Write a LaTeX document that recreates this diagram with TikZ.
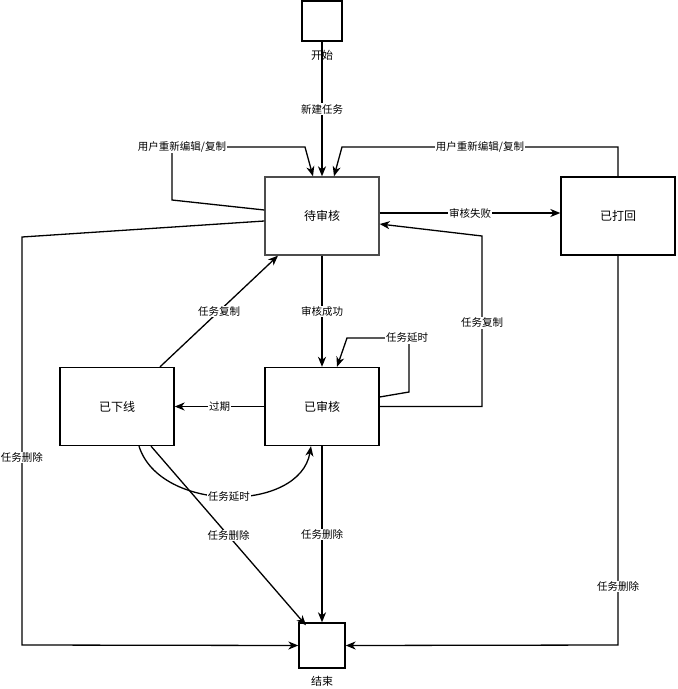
\documentclass[tikz,border=0pt]{standalone}
\usepackage{fontspec}
\setmainfont{Noto Sans CJK SC}
\usetikzlibrary{arrows.meta}
\begin{document}
\begin{tikzpicture}[x=1pt,y=-1pt,
  line width=1.3pt,
  box/.style={draw=black, fill=white, minimum width=114pt, minimum height=78pt, inner sep=0pt, font=\fontsize{12}{12}\selectfont},
  term/.style={draw=black, fill=white, inner sep=0pt},
  lbl/.style={fill=white, inner sep=0.8pt, font=\fontsize{10.5}{10.5}\selectfont, text=black},
  captxt/.style={inner sep=0pt, font=\fontsize{11}{11}\selectfont},
  arr/.style={-{Stealth[length=10pt,width=8pt,inset=3pt]}, line join=miter}
]
\useasboundingbox (0,0) rectangle (678,689);

\node[term, minimum width=40pt, minimum height=40pt] (start) at (322,21) {};
\node[term, minimum width=46pt, minimum height=45pt] (end) at (322,645.5) {};
\node[box, draw=black!70] (pend) at (322,216) {待审核};
\node[box] (rej) at (618,216) {已打回};
\node[box] (off) at (117,406.5) {已下线};
\node[box] (appr) at (322,406.5) {已审核};

\coordinate (l1) at (172,200);
\coordinate (l2) at (172,147);
\coordinate (l3) at (305,147);
\coordinate (r2) at (618,147);
\coordinate (r3) at (342,147);
\coordinate (d1) at (22,237);
\coordinate (d2) at (22,645);
\coordinate (rd) at (618,645);
\coordinate (c1) at (482,406.5);
\coordinate (c2) at (482,236);
\coordinate (s1) at (409,392);
\coordinate (s2) at (409,338);
\coordinate (s3) at (347,338);

% start -> pending
\draw[arr] (start) -- node[lbl]{新建任务} (pend);
% left re-edit
\draw[arr] ([yshift=6pt]pend.west) -- (l1) -- (l2) -- node[lbl,pos=0.075]{用户重新编辑/复制} (l3) -- ([xshift=-9pt]pend.north);
% right re-edit
\draw[arr] (rej.north) -- (r2) -- node[lbl,pos=0.5]{用户重新编辑/复制} (r3) -- ([xshift=12pt]pend.north);
% pending -> rejected
\draw[arr] ([yshift=3pt]pend.east) -- node[lbl]{审核失败} ([yshift=3pt]rej.west);
% pending -> approved
\draw[arr] (pend) -- node[lbl]{审核成功} (appr);
% approved -> pending (copy)
\draw[arr] (appr.east) -- (c1) -- node[lbl,pos=0.49]{任务复制} (c2) -- ([yshift=-8pt]pend.east);
% approved self delay
\draw[arr] ([yshift=9.5pt]appr.east) -- (s1) -- (s2) -- node[lbl,pos=0.03]{任务延时} (s3) -- ([xshift=15pt]appr.north);
% offline -> pending copy
\draw[arr] ([xshift=43pt]off.north) -- node[lbl]{任务复制} ([xshift=-44pt]pend.south);
% approved -> offline
\draw[arr] (appr.west) -- node[lbl]{过期} (off.east);
% offline -> approved delay
\draw[arr] ([xshift=22pt]off.south) .. controls (160,513) and (300,513) .. node[lbl]{任务延时} ([xshift=-11pt]appr.south);
% offline -> end
\draw[arr] ([xshift=34pt]off.south) -- node[lbl]{任务删除} ([xshift=-16pt,yshift=-3pt]end.north);
% approved -> end
\draw[arr] (appr.south) -- node[lbl]{任务删除} (end.north);
% rejected -> end
\draw[arr] (rej.south) -- node[lbl,pos=0.85]{任务删除} (rd) -- (end.east);
% pending -> end (left)
\draw[arr] ([yshift=-5pt]pend.west) -- (d1) -- node[lbl,pos=0.54]{任务删除} (d2) -- (end.west);

\node[captxt] at (322,55) {开始};
\node[captxt] at (322,681) {结束};
\end{tikzpicture}
\end{document}
